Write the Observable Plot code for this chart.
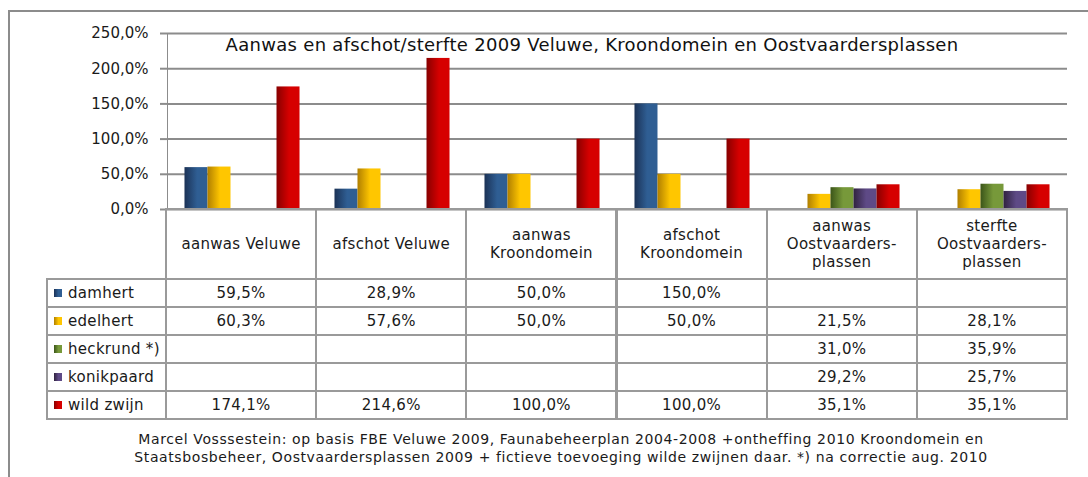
<!DOCTYPE html>
<html>
<head>
<meta charset="utf-8">
<script src="https://cdn.jsdelivr.net/npm/d3@7"></script>
<script src="https://cdn.jsdelivr.net/npm/@observablehq/plot@0.6"></script>
<style>
html, body { margin: 0; padding: 0; background: #fff; }
#wrap { position: relative; width: 1088px; height: 477px; overflow: hidden; background: #fff;
  font-family: "DejaVu Sans", sans-serif; color: #1a1a1a; }
#frame { position: absolute; left: 8px; top: 10px; width: 1200px; height: 700px;
  border-left: 2px solid #8c8c8c; border-top: 2px solid #8c8c8c; box-sizing: border-box; }
#chart { position: absolute; left: 0; top: 0; }
#chart svg { overflow: visible; }
#chart svg [aria-label^="y-axis"] text { fill: #1a1a1a; }
#chart svg [aria-label^="y-axis"] path,
#chart svg [aria-label^="y-axis"] line { stroke-width: 2px; }
#title { position: absolute; left: 0; width: 1184px; top: 34px; text-align: center;
  font-size: 18px; letter-spacing: 0.3px; line-height: 22px; white-space: nowrap; color: #111; }
.cell { position: absolute; box-sizing: border-box; border: 2px solid #9a9a9a;
  display: flex; align-items: center; justify-content: center; text-align: center;
  font-size: 15px; letter-spacing: 0.3px; line-height: 18px; white-space: pre-line; }
.cell.legend { justify-content: flex-start; padding-left: 6px; white-space: nowrap; }
.swatch { width: 8px; height: 8px; margin-right: 6px; flex: none; }
#caption { position: absolute; left: 0; width: 1122px; top: 430px; text-align: center;
  font-size: 14px; letter-spacing: 0.6px; line-height: 18px; color: #1a1a1a; white-space: nowrap; }
</style>
</head>
<body>
<div id="wrap">
  <div id="frame"></div>
  <div id="chart"></div>
  <div id="title"></div>
  <div id="caption"></div>
</div>
<script>
// ---------- data ----------
const titleText = "Aanwas en afschot/sterfte 2009 Veluwe, Kroondomein en Oostvaardersplassen";
const captionLines = [
  "Marcel Vosssestein: op basis FBE Veluwe 2009,  Faunabeheerplan 2004-2008 +ontheffing 2010 Kroondomein en",
  "Staatsbosbeheer, Oostvaardersplassen 2009 + fictieve toevoeging wilde zwijnen daar. *) na correctie aug. 2010"
];
const categories = [
  "aanwas Veluwe",
  "afschot Veluwe",
  "aanwas\nKroondomein",
  "afschot\nKroondomein",
  "aanwas\nOostvaarders-\nplassen",
  "sterfte\nOostvaarders-\nplassen"
];
const series = ["damhert", "edelhert", "heckrund *)", "konikpaard", "wild zwijn"];
const damhert    = [59.5, 28.9, 50.0, 150.0, null, null];
const edelhert   = [60.3, 57.6, 50.0, 50.0, 21.5, 28.1];
const heckrund   = [null, null, null, null, 31.0, 35.9];
const konikpaard = [null, null, null, null, 29.2, 25.7];
const wildZwijn  = [174.1, 214.6, 100.0, 100.0, 35.1, 35.1];
const yTicks = [0, 50, 100, 150, 200, 250];

// ---------- styles ----------
const darkColors  = ["#1b3256", "#b07f00", "#3b5519", "#30223f", "#880000"];
const lightColors = ["#2f5e93", "#ffc600", "#77993a", "#5e4a86", "#d60000"];

const seriesValues = [damhert, edelhert, heckrund, konikpaard, wildZwijn];
const fmt = v => v.toFixed(1).replace(".", ",") + "%";

const data = [];
series.forEach((s, i) => categories.forEach((c, j) => {
  const v = seriesValues[i][j];
  if (v != null) data.push({category: c, series: s, value: v, gi: i});
}));

const W = 1088, H = 212, ML = 166, MR = 21, MT = 33, MB = 3;

const chart = Plot.plot({
  width: W, height: H,
  marginLeft: ML, marginRight: MR, marginTop: MT, marginBottom: MB,
  style: {fontFamily: "DejaVu Sans", fontSize: "15px", color: "#8c8c8c", background: "transparent"},
  facet: {data: data, x: "category"},
  fx: {domain: categories, padding: 0, axis: null, label: null},
  x: {domain: series, paddingInner: 0, paddingOuter: 0.76, axis: null, round: false},
  y: {domain: [0, 250], ticks: yTicks, tickFormat: fmt, tickSize: 7, tickPadding: 12, label: null, line: true},
  color: {type: "identity"},
  marks: [
    Plot.ruleY(yTicks, {stroke: "#8c8c8c", strokeWidth: 2}),
    Plot.barY(data, {x: "series", y: "value", fill: d => `url(#grad${d.gi})`})
  ]
});
document.getElementById("chart").appendChild(chart);

const svgEl = chart.tagName.toLowerCase() === "svg" ? chart : chart.querySelector("svg");
const defs = d3.select(svgEl).insert("defs", ":first-child");
series.forEach((s, i) => {
  const g = defs.append("linearGradient").attr("id", "grad" + i)
    .attr("x1", "0").attr("x2", "1").attr("y1", "0").attr("y2", "0");
  g.append("stop").attr("offset", "0%").attr("stop-color", darkColors[i]);
  g.append("stop").attr("offset", "55%").attr("stop-color", lightColors[i]);
  g.append("stop").attr("offset", "100%").attr("stop-color", lightColors[i]);
});

// ---------- title & caption ----------
document.getElementById("title").textContent = titleText;
document.getElementById("caption").innerHTML = captionLines.map(t => t.replace(/&/g, "&amp;").replace(/</g, "&lt;")).join("<br>");

// ---------- data table ----------
const wrap = document.getElementById("wrap");
const step = (W - ML - MR) / categories.length;
const colX = d3.range(categories.length + 1).map(i => ML + i * step);
const legendLeft = 47;
const tableTop = H - MB;
const headerH = 70, rowH = 28;

function cell(x, y, w, h, cls) {
  const d = document.createElement("div");
  d.className = "cell" + (cls ? " " + cls : "");
  d.style.left = (x - 1) + "px";
  d.style.top = (y - 1) + "px";
  d.style.width = (w + 2) + "px";
  d.style.height = (h + 2) + "px";
  wrap.appendChild(d);
  return d;
}
categories.forEach((c, j) => {
  cell(colX[j], tableTop, step, headerH).textContent = c;
});
series.forEach((s, i) => {
  const y = tableTop + headerH + i * rowH;
  const lg = cell(legendLeft, y, ML - legendLeft, rowH, "legend");
  const sw = document.createElement("div");
  sw.className = "swatch";
  sw.style.background = `linear-gradient(to right, ${darkColors[i]}, ${lightColors[i]} 55%, ${lightColors[i]})`;
  lg.appendChild(sw);
  const sp = document.createElement("span");
  sp.textContent = s;
  lg.appendChild(sp);
  categories.forEach((c, j) => {
    const v = seriesValues[i][j];
    cell(colX[j], y, step, rowH).textContent = v == null ? "" : fmt(v);
  });
});
</script>
</body>
</html>
